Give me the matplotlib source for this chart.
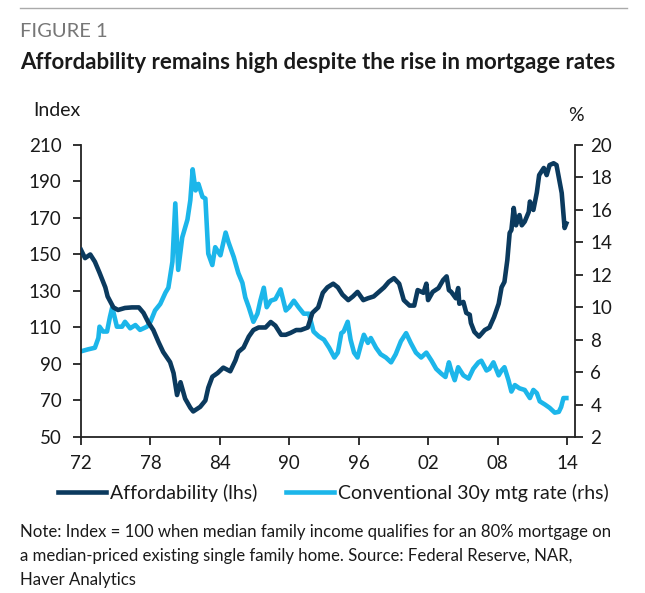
import numpy as np
import matplotlib.pyplot as plt
from matplotlib.lines import Line2D

plt.rcParams['font.family'] = ['Lato', 'DejaVu Sans']

# Housing affordability index (lhs)
aff_year = [1972.0, 1972.35, 1972.8, 1973.2, 1973.6, 1974.1, 1974.3, 1974.8, 1975.2, 1975.8,
            1976.4, 1977.0, 1977.4, 1977.8, 1978.25, 1978.7, 1979.1, 1979.7, 1980.0, 1980.3,
            1980.6, 1981.0, 1981.45, 1981.7, 1982.3, 1982.75, 1983.0, 1983.35, 1983.8, 1984.3,
            1984.9, 1985.35, 1985.6, 1986.05, 1986.5, 1986.9, 1987.35, 1987.95, 1988.4, 1988.8,
            1989.3, 1989.7, 1990.1, 1990.6, 1991.0, 1991.6, 1992.0, 1992.5, 1992.9, 1993.3,
            1993.8, 1994.2, 1994.6, 1995.1, 1995.5, 1995.9, 1996.4, 1996.8, 1997.3, 1997.75,
            1998.2, 1998.6, 1999.05, 1999.5, 1999.9, 2000.4, 2000.8, 2001.1, 2001.6, 2001.85,
            2002.0, 2002.4, 2002.9, 2003.3, 2003.6, 2003.8, 2004.0, 2004.4, 2004.6, 2004.7,
            2005.05, 2005.3, 2005.6, 2005.7, 2006.0, 2006.4, 2006.9, 2007.3, 2007.7, 2008.1,
            2008.35, 2008.6, 2008.85, 2009.05, 2009.2, 2009.4, 2009.6, 2009.9, 2010.1, 2010.35,
            2010.7, 2010.8, 2011.1, 2011.4, 2011.6, 2012.0, 2012.25, 2012.5, 2012.85, 2013.1,
            2013.55, 2013.8, 2013.95]
aff_val = [152.5, 148, 150, 146, 140, 132, 127, 121, 119.6, 120.7,
           121, 121, 118, 113, 108.6, 102, 96.6, 91, 85, 73,
           80, 71, 66, 64, 66.5, 70, 77, 83, 85, 88,
           86, 92, 96.6, 99, 105, 108.6, 110, 110, 113, 111,
           106, 106, 107, 108.6, 108.6, 110, 118, 121, 129, 132,
           134, 132, 128, 125, 127, 129.5, 125, 126, 127, 129.5,
           132, 135, 137, 134, 125, 122, 122, 130.5, 129, 134,
           125, 129.5, 131.6, 136, 138, 130.5, 129.5, 126, 131.6, 123,
           124, 118, 117, 112.5, 107.6, 105, 108.6, 110, 115.7, 123,
           132, 135, 147, 161.8, 163.4, 175.5, 166, 171.6, 166, 168,
           173.3, 179, 174.4, 184, 193.5, 197.4, 193.5, 199, 200, 199,
           183.7, 164.5, 167]

# Conventional 30y mortgage rate, % (rhs)
rate_year = [1972.1, 1972.6, 1973.2, 1973.5, 1973.6, 1973.9, 1974.25, 1974.5, 1974.7, 1975.1,
             1975.55, 1975.8, 1976.25, 1976.7, 1977.1, 1977.7, 1978.0, 1978.4, 1978.85, 1979.3,
             1979.55, 1979.9, 1980.15, 1980.4, 1980.75, 1981.2, 1981.45, 1981.65, 1981.9, 1982.15,
             1982.5, 1982.75, 1983.0, 1983.35, 1983.6, 1984.05, 1984.5, 1984.75, 1985.2, 1985.6,
             1985.95, 1986.2, 1986.5, 1986.9, 1987.25, 1987.5, 1987.8, 1988.05, 1988.4, 1988.8,
             1989.25, 1989.7, 1990.0, 1990.4, 1990.8, 1991.25, 1991.7, 1992.1, 1992.55, 1993.0,
             1993.45, 1993.9, 1994.2, 1994.5, 1994.7, 1995.05, 1995.3, 1995.6, 1995.9, 1996.2,
             1996.45, 1996.8, 1997.05, 1997.5, 1997.9, 1998.35, 1998.8, 1999.2, 1999.65, 2000.1,
             2000.5, 2000.95, 2001.4, 2001.85, 2002.3, 2002.7, 2003.15, 2003.5, 2003.8, 2004.0,
             2004.3, 2004.6, 2005.05, 2005.5, 2005.9, 2006.35, 2006.6, 2007.05, 2007.3, 2007.65,
             2008.1, 2008.35, 2008.6, 2008.95, 2009.2, 2009.5, 2009.9, 2010.35, 2010.8, 2011.1,
             2011.4, 2011.65, 2012.1, 2012.5, 2012.95, 2013.3, 2013.5, 2013.7, 2013.95]
rate_val = [7.3, 7.4, 7.5, 8.1, 8.8, 8.5, 8.5, 9.4, 10.0, 8.8,
            8.8, 9.1, 8.7, 8.9, 8.6, 8.8, 9.1, 9.8, 10.2, 10.9,
            11.2, 12.8, 16.4, 12.3, 14.3, 15.4, 16.6, 18.5, 17.2, 17.6,
            16.8, 16.7, 13.3, 12.6, 13.7, 13.2, 14.6, 14.0, 13.1, 12.1,
            11.5, 10.6, 10.0, 9.1, 9.6, 10.4, 11.2, 10.0, 10.4, 10.5,
            11.1, 9.8, 10.0, 10.4, 10.0, 9.6, 9.6, 8.5, 8.2, 8.0,
            7.5, 6.9, 7.2, 8.4, 8.5, 9.1, 8.0, 7.2, 6.9, 7.7,
            8.3, 7.8, 8.1, 7.5, 7.1, 6.9, 6.6, 7.1, 7.9, 8.4,
            7.8, 7.2, 6.9, 7.2, 6.7, 6.2, 5.9, 5.7, 6.6, 6.1,
            5.5, 6.3, 5.8, 5.6, 6.2, 6.6, 6.7, 6.1, 6.2, 6.6,
            5.8, 6.1, 6.3, 5.5, 4.8, 5.2, 5.0, 4.9, 4.4, 4.9,
            4.7, 4.2, 4.0, 3.8, 3.5, 3.55, 3.85, 4.4, 4.4]

xticks = [1972, 1978, 1984, 1990, 1996, 2002, 2008, 2014]

dark = '#0b3a5e'
light = '#1cb6ea'
txt = '#1a1a1a'

fig = plt.figure(figsize=(6.45, 5.93), dpi=100)
ax = fig.add_axes([0.1256, 0.2631, 0.7659, 0.4924])
ax2 = ax.twinx()

ax.plot(aff_year, aff_val, color=dark, lw=3.3, solid_joinstyle='round', zorder=3)
ax2.plot(rate_year, rate_val, color=light, lw=3.3, solid_joinstyle='round', zorder=2)
ax.set_zorder(ax2.get_zorder() + 1)
ax.patch.set_visible(False)

ax.set_xlim(1972, 2014.7)
ax.set_ylim(50, 210)
ax2.set_ylim(2, 20)
ax.set_yticks(np.arange(50, 211, 20))
ax2.set_yticks(np.arange(2, 21, 2))
ax.set_xticks(xticks)
ax.set_xticklabels(['%02d' % (y % 100) for y in xticks])

for a in (ax, ax2):
    a.spines['top'].set_visible(False)
    for s in a.spines.values():
        s.set_linewidth(1.3)
        s.set_color('#222222')
    a.tick_params(direction='out', length=6, width=1.3, colors='#222222',
                  labelsize=13.5, labelcolor=txt, pad=5)
ax.spines['right'].set_visible(False)
ax2.spines['left'].set_visible(False)
ax2.spines['bottom'].set_visible(False)
ax.tick_params(axis='x', pad=7)
ax.tick_params(axis='y', pad=8)

fig.text(0.051, 0.8145, 'Index', fontsize=14, color=txt, ha='left', va='center')
fig.text(0.893, 0.806, '%', fontsize=14, color=txt, ha='center', va='center')

# header
fig.add_artist(Line2D([0.031, 0.972], [0.987, 0.987], color='#aaaaaa', lw=1))
fig.text(0.031, 0.947, 'FIGURE 1', fontsize=14.5, color='#777777', ha='left', va='center')
fig.text(0.031, 0.894, 'Affordability remains high despite the rise in mortgage rates',
         fontsize=16, fontweight='bold', color=txt, ha='left', va='center')

handles = [Line2D([], [], color=dark, lw=3.3), Line2D([], [], color=light, lw=3.3)]
fig.legend(handles, ['Affordability (lhs)', 'Conventional 30y mtg rate (rhs)'],
           loc='center', bbox_to_anchor=(0.517, 0.169), ncol=2, frameon=False,
           fontsize=14, handlelength=2.45, handletextpad=0.2, columnspacing=1.5,
           labelcolor=txt)

note = ('Note: Index = 100 when median family income qualifies for an 80% mortgage on\n'
        'a median-priced existing single family home. Source: Federal Reserve, NAR,\n'
        'Haver Analytics')
fig.text(0.031, 0.117, note, fontsize=12.1, color=txt, ha='left', va='top', linespacing=1.62)

plt.savefig('out.png', dpi=100)
